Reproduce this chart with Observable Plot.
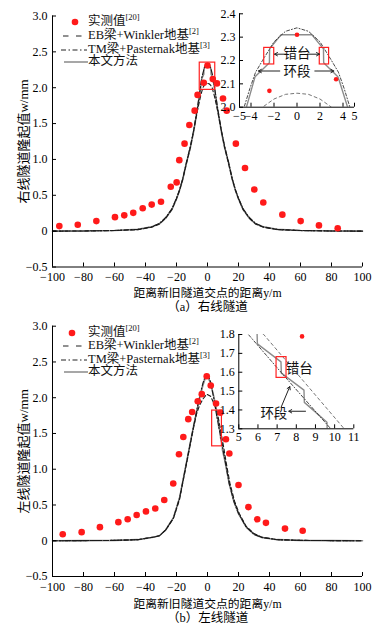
<!DOCTYPE html>
<html><head><meta charset="utf-8">
<script src="https://cdn.jsdelivr.net/npm/d3@7"></script>
<script src="https://cdn.jsdelivr.net/npm/@observablehq/plot@0.6"></script>
<style>
body{margin:0;background:#fff;}
#wrap{position:relative;width:387px;height:630px;overflow:hidden;font-family:"Liberation Serif","Noto Sans CJK SC",serif;color:#111;}
.abs{position:absolute;}
.lrow{position:absolute;white-space:nowrap;font-size:12.5px;line-height:14px;}
.lrow sup{font-size:8.5px;vertical-align:5px;line-height:0;}
</style></head>
<body><div id="wrap"></div>
<script>
const FONT = '"Liberation Serif","Noto Sans CJK SC",serif';

// ---------- axes ----------
const xTicks = [-100,-80,-60,-40,-20,0,20,40,60,80,100];
const yTicks = [-0.5,0,0.5,1,1.5,2,2.5,3];
const insetA_xTicks = [-5,-4,-2,0,2,4,5];
const insetA_yTicks = [2.0,2.1,2.2,2.3,2.4];
const insetB_xTicks = [5,6,7,8,9,10,11];
const insetB_yTicks = [1.3,1.4,1.5,1.6,1.7,1.8];

// ---------- legend ----------
const legendNames = ["实测值", "EB梁+Winkler地基", "TM梁+Pasternak地基", "本文方法"];
const legendRefs = ["[20]", "[2]", "[3]", ""];

// ---------- panel (a) 右线隧道 ----------
const measA_x = [-95.6,-83.7,-71.7,-59.7,-53.7,-47.9,-41.8,-36,-30,-23.7,-19.9,-18.2,-14.8,-11.7,-8.3,-6.4,-2.4,0,3.4,6.1,10,12.4,18.3,24.2,30.2,36,48.3,60.1,71.9,84];
const measA_w = [0.07,0.09,0.14,0.195,0.22,0.255,0.32,0.37,0.41,0.62,0.68,0.99,1.22,1.48,1.68,1.90,2.07,2.31,2.12,2.06,1.85,1.68,1.22,0.88,0.58,0.40,0.23,0.14,0.08,0.04];

const solidA_x = [-100,-80,-60,-45,-36,-31,-27,-23,-20,-18,-16,-13.5,-11,-9,-6.5,-4.4,-3.65,-2.4,-2.38,-1.4,1.3,2.3,2.32,3.55,3.7,4.4,6.5,9,11,13.5,16,18,20,23,27,31,36,45,60,80,100];
const solidA_w = [0,0.003,0.01,0.025,0.06,0.1,0.18,0.3,0.45,0.57,0.72,0.96,1.17,1.38,1.7,2.0,2.13,2.19,2.25,2.31,2.31,2.25,2.19,2.13,2.11,2.0,1.7,1.38,1.17,0.96,0.72,0.57,0.45,0.3,0.18,0.1,0.06,0.025,0.01,0.003,0];

const tmA_x = [-100,-80,-60,-45,-36,-31,-27,-23,-20,-18,-16,-13.5,-11,-9,-6.5,-4.6,-4.1,-3.6,-3,-2,-1,0,1,2,3,3.6,4.1,4.6,6.5,9,11,13.5,16,18,20,23,27,31,36,45,60,80,100];
const tmA_w = [0,0.003,0.01,0.025,0.06,0.11,0.19,0.31,0.46,0.58,0.73,0.97,1.19,1.4,1.72,2.0,2.08,2.15,2.2,2.28,2.325,2.34,2.325,2.28,2.2,2.15,2.08,2.0,1.72,1.4,1.19,0.97,0.73,0.58,0.46,0.31,0.19,0.11,0.06,0.025,0.01,0.003,0];

const ebA_x = [-100,-80,-60,-45,-36,-31,-27,-23,-20,-18,-16,-13.5,-11,-9,-6.5,-4.5,-3,-2,-1,0,1,2,3,4.5,6.5,9,11,13.5,16,18,20,23,27,31,36,45,60,80,100];
const ebA_w = [0,0.002,0.008,0.02,0.055,0.1,0.18,0.3,0.45,0.57,0.72,0.95,1.17,1.39,1.68,1.88,2.0,2.035,2.055,2.06,2.055,2.035,2.0,1.88,1.68,1.39,1.17,0.95,0.72,0.57,0.45,0.3,0.18,0.1,0.055,0.02,0.008,0.002,0];

const zoomBoxA_x = [-5, 5];
const zoomBoxA_w = [1.97, 2.35];
const insetA_xDom = [-5, 5];
const insetA_yDom = [2.0, 2.4];
const stepBoxA_x1 = [-2.85, 1.98];
const stepBoxA_x2 = [-1.98, 2.79];
const stepBoxA_w1 = [2.183, 2.183];
const stepBoxA_w2 = [2.254, 2.254];
const annoA_text = ["错台", "环段"];
const annoA_x = [0, 0];
const annoA_w = [2.229, 2.154];
const arrowA_x1 = [-0.9, 0.9, -1.5, 1.55];
const arrowA_x2 = [-1.95, 1.95, -3.35, 3.2];
const arrowA_w = [2.227, 2.227, 2.155, 2.155];

// ---------- panel (b) 左线隧道 ----------
const measB_x = [-93.4,-81.2,-69.4,-57.5,-51.5,-45.7,-39.7,-33.7,-27.9,-22.1,-18.4,-15.6,-12.4,-9.9,-6.3,-3.7,-0.5,2.1,5.5,8.3,11.9,14.1,20,26.4,32.1,37.7,50,61.4];
const measB_w = [0.09,0.12,0.19,0.26,0.30,0.36,0.41,0.45,0.57,0.80,1.21,1.45,1.70,1.80,1.95,2.05,2.30,2.17,1.92,1.79,1.42,1.22,0.78,0.47,0.30,0.25,0.17,0.14];

const solidB_x = [-100,-80,-60,-45,-35,-31,-27,-22,-18,-15.5,-13.4,-11,-9,-7,-5,-3,-1.5,-0.5,0.5,2,4,5.95,5.97,7.2,7.22,8.4,8.42,9.6,9.62,11.3,14,17,20,25,30,35,45,60,80,100];
const solidB_w = [0,0.002,0.005,0.015,0.05,0.07,0.15,0.32,0.6,0.88,1.11,1.38,1.6,1.8,2.0,2.17,2.27,2.30,2.28,2.2,2.02,1.82,1.75,1.655,1.595,1.505,1.44,1.335,1.27,1.11,0.8,0.55,0.38,0.19,0.09,0.045,0.015,0.005,0.002,0];

const tmB_x = [-100,-80,-60,-45,-35,-31,-27,-22,-18,-15.5,-13.4,-11,-9,-7,-5,-3,-1.5,-0.5,0.5,2,4,5.5,7.2,9.8,11.5,14,17,20,25,30,35,45,60,80,100];
const tmB_w = [0,0.002,0.005,0.015,0.05,0.07,0.15,0.32,0.6,0.88,1.11,1.38,1.6,1.82,2.03,2.2,2.3,2.33,2.31,2.22,2.0,1.8,1.6,1.3,1.1,0.8,0.55,0.38,0.19,0.09,0.045,0.015,0.005,0.002,0];

const ebB_x = [-100,-80,-60,-45,-35,-31,-27,-22,-18,-15.5,-13.4,-11,-9,-7,-5,-3,-0.5,2,3.5,5,6.3,8.4,10.5,12,14.5,17.5,20.5,25,30,35,45,60,80,100];
const ebB_w = [0,0.002,0.005,0.015,0.05,0.07,0.15,0.31,0.58,0.86,1.09,1.36,1.58,1.78,1.9,1.98,2.05,2.02,1.95,1.87,1.8,1.55,1.3,1.1,0.8,0.55,0.38,0.2,0.1,0.05,0.015,0.005,0.002,0];

const zoomBoxB_x = [3, 9.3];
const zoomBoxB_w = [1.32, 1.82];
const insetB_xDom = [5, 11];
const insetB_yDom = [1.3, 1.8];
const stepBoxB_x = [6.97, 7.49];
const stepBoxB_w = [1.57, 1.68];
const annoB_text = ["错台", "环段"];
const annoB_x = [8.15, 6.83];
const annoB_w = [1.618, 1.38];
const arrowB_x1 = [7.21, 8.48];
const arrowB_w1 = [1.415, 1.393];
const arrowB_x2 = [7.66, 7.61];
const arrowB_w2 = [1.524, 1.393];

// ---------- helpers ----------
const rows = (xs, ws) => xs.map((x, i) => ({x, w: ws[i]}));
const minus = v => (v < 0 ? "\u2212" : "") + Math.abs(v);
const fmt1 = v => v === 0 ? "0" : (v < 0 ? "\u2212" : "") + Math.abs(v).toFixed(1);

function framePlot({width, height, ml, mr, mt, mb, xDom, yDom, xT, yT, xFmt, yFmt, marks, fs, padX = 3, padY = 5}) {
  const pw = width - ml - mr, ph = height - mt - mb;
  const tx = 4 * (xDom[1] - xDom[0]) / pw, ty = 4 * (yDom[1] - yDom[0]) / ph;
  return Plot.plot({
    width, height, marginLeft: ml, marginRight: mr, marginTop: mt, marginBottom: mb,
    style: {background: "transparent", fontFamily: FONT, fontSize: fs + "px", color: "#000", overflow: "visible"},
    x: {domain: xDom, ticks: xT, tickSize: 0, tickPadding: padX, tickFormat: xFmt, label: null},
    y: {domain: yDom, ticks: yT, tickSize: 0, tickPadding: padY, tickFormat: yFmt, label: null},
    marks: [
      ...marks,
      Plot.ruleX([xDom[0]], {stroke: "#000", strokeWidth: 1}),
      Plot.ruleY([yDom[0]], {stroke: "#000", strokeWidth: 1}),
      Plot.ruleY(yT, {y: d => d, x1: xDom[0], x2: xDom[0] + tx, stroke: "#000"}),
      Plot.ruleX(xT, {x: d => d, y1: yDom[0], y2: yDom[0] + ty, stroke: "#000"})
    ]
  });
}

function mainMarks(solid, tm, eb, meas) {
  return [
    Plot.line(solid, {x: "x", y: "w", stroke: "#8a8a8a", strokeWidth: 1.6}),
    Plot.line(eb, {x: "x", y: "w", stroke: "#1a1a1a", strokeWidth: 1.1, strokeDasharray: "4,2.5"}),
    Plot.line(tm, {x: "x", y: "w", stroke: "#1a1a1a", strokeWidth: 1.1, strokeDasharray: "5,2,1.2,2"}),
    Plot.dot(meas, {x: "x", y: "w", r: 3.3, fill: "#ff1a1a"})
  ];
}
function insetMarks(solid, tm, eb, meas) {
  return [
    Plot.line(solid, {x: "x", y: "w", stroke: "#8c8c8c", strokeWidth: 1.4, clip: true}),
    Plot.line(eb, {x: "x", y: "w", stroke: "#666", strokeWidth: 0.9, strokeDasharray: "3,3", clip: true}),
    Plot.line(tm, {x: "x", y: "w", stroke: "#333", strokeWidth: 0.9, strokeDasharray: "3,2,1,2", clip: true}),
    Plot.dot(meas, {x: "x", y: "w", r: 2.3, fill: "#ff1a1a", clip: true})
  ];
}

const wrap = document.getElementById("wrap");
function place(el, left, top) {
  const d = document.createElement("div");
  d.className = "abs"; d.style.left = left + "px"; d.style.top = top + "px";
  d.appendChild(el); wrap.appendChild(d);
}

// ---------- main panels ----------
function mainPanel(o) {
  return framePlot({
    width: 387, height: o.height, ml: 52, mr: 25, mt: o.mt, mb: o.mb,
    xDom: [-100, 100], yDom: [-0.5, 3], xT: xTicks, yT: yTicks, xFmt: minus, yFmt: fmt1, fs: 12, padX: 5.5, padY: 5,
    marks: [
      ...mainMarks(o.solid, o.tm, o.eb, o.meas),
      Plot.rect([0], {x1: () => o.box[0][0], x2: () => o.box[0][1], y1: () => o.box[1][0], y2: () => o.box[1][1], fill: "none", stroke: "#ff2020", strokeWidth: 1.2}),
      Plot.text([o.ylabel], {frameAnchor: "left", dx: -29, rotate: -90, fontSize: 13, textAnchor: "middle", lineAnchor: "middle"}),
      Plot.text(["距离新旧隧道交点的距离y/m"], {frameAnchor: "bottom", dy: o.tdy, fontSize: 11.8, textAnchor: "middle", lineAnchor: "middle"}),
      Plot.text([o.caption], {frameAnchor: "bottom", dy: o.cdy, fontSize: 12.5, textAnchor: "middle", lineAnchor: "middle"})
    ]
  });
}

place(mainPanel({
  height: 310, mt: 15.5, mb: 43.5, tdy: 26, cdy: 40,
  solid: rows(solidA_x, solidA_w), tm: rows(tmA_x, tmA_w), eb: rows(ebA_x, ebA_w), meas: rows(measA_x, measA_w),
  box: [zoomBoxA_x, zoomBoxA_w], ylabel: "右线隧道隆起值w/mm", caption: "（a）右线隧道"
}), 0, 0);

place(mainPanel({
  height: 320, mt: 15.7, mb: 54, tdy: 27.5, cdy: 41,
  solid: rows(solidB_x, solidB_w), tm: rows(tmB_x, tmB_w), eb: rows(ebB_x, ebB_w), meas: rows(measB_x, measB_w),
  box: [zoomBoxB_x, zoomBoxB_w], ylabel: "左线隧道隆起值w/mm", caption: "（b）左线隧道"
}), 0, 310);

// ---------- insets ----------
const stepA = stepBoxA_x1.map((x1, i) => ({x1, x2: stepBoxA_x2[i], y1: stepBoxA_w1[i], y2: stepBoxA_w2[i]}));
const annoA = annoA_text.map((t, i) => ({t, x: annoA_x[i], w: annoA_w[i]}));
const arrA = arrowA_x1.map((x1, i) => ({x1, x2: arrowA_x2[i], y: arrowA_w[i]}));
place(framePlot({
  width: 165, height: 125, ml: 39, mr: 11, mt: 13.3, mb: 18.3,
  xDom: insetA_xDom, yDom: insetA_yDom, xT: insetA_xTicks, yT: insetA_yTicks, xFmt: minus, yFmt: v => v.toFixed(1), fs: 12, padX: 4, padY: 4,
  marks: [
    ...insetMarks(rows(solidA_x, solidA_w), rows(tmA_x, tmA_w), rows(ebA_x, ebA_w), rows(measA_x, measA_w)),
    Plot.rect(stepA, {x1: "x1", x2: "x2", y1: "y1", y2: "y2", fill: "none", stroke: "#ff2020", strokeWidth: 1.2}),
    Plot.arrow(arrA, {x1: "x1", x2: "x2", y1: "y", y2: "y", stroke: "#222", strokeWidth: 1, headLength: 5}),
    Plot.text(annoA, {x: "x", y: "w", text: "t", fontSize: 13.5, fill: "#111"})
  ]
}), 200, 0);

const annoB = annoB_text.map((t, i) => ({t, x: annoB_x[i], w: annoB_w[i]}));
const arrB = arrowB_x1.map((x1, i) => ({x1, y1: arrowB_w1[i], x2: arrowB_x2[i], y2: arrowB_w2[i]}));
place(framePlot({
  width: 165, height: 125, ml: 38.3, mr: 11.7, mt: 14, mb: 16.7,
  xDom: insetB_xDom, yDom: insetB_yDom, xT: insetB_xTicks, yT: insetB_yTicks, xFmt: v => String(v), yFmt: v => v.toFixed(1), fs: 12, padX: 4, padY: 4,
  marks: [
    ...insetMarks(rows(solidB_x, solidB_w), rows(tmB_x, tmB_w), rows(ebB_x, ebB_w), rows(measB_x, measB_w)),
    Plot.rect([0], {x1: () => stepBoxB_x[0], x2: () => stepBoxB_x[1], y1: () => stepBoxB_w[0], y2: () => stepBoxB_w[1], fill: "none", stroke: "#ff2020", strokeWidth: 1.2}),
    Plot.arrow(arrB, {x1: "x1", x2: "x2", y1: "y1", y2: "y2", stroke: "#222", strokeWidth: 1, headLength: 5}),
    Plot.text(annoB, {x: "x", y: "w", text: "t", fontSize: 13.5, fill: "#111"})
  ]
}), 200, 320);

// ---------- legends ----------
function legend(dotX, ys) {
  const samples = [
    `<svg width="30" height="10" style="position:absolute;left:${dotX - 5}px;top:-5px"><circle cx="5" cy="5" r="3.3" fill="#ff1a1a"/></svg>`,
    `<svg width="30" height="10" style="position:absolute;left:62px;top:-5px"><line x1="1" x2="20" y1="5" y2="5" stroke="#222" stroke-width="1.1" stroke-dasharray="5.5,7.5"/></svg>`,
    `<svg width="30" height="10" style="position:absolute;left:60px;top:-5px"><line x1="1" x2="27" y1="5" y2="5" stroke="#222" stroke-width="1.1" stroke-dasharray="5,2.5,1.5,2.5"/></svg>`,
    `<svg width="30" height="10" style="position:absolute;left:63px;top:-5px"><line x1="1" x2="25" y1="5" y2="5" stroke="#8a8a8a" stroke-width="1.5"/></svg>`
  ];
  legendNames.forEach((name, i) => {
    const r = document.createElement("div");
    r.className = "lrow";
    r.style.left = "0px"; r.style.top = ys[i] + "px";
    r.innerHTML = samples[i] + `<span style="position:absolute;left:88px;top:-8px">${name}${legendRefs[i] ? "<sup>" + legendRefs[i] + "</sup>" : ""}</span>`;
    wrap.appendChild(r);
  });
}
legend(75, [22, 35.5, 49.5, 62]);
legend(72, [333, 345.5, 359.5, 372]);
</script></body></html>
